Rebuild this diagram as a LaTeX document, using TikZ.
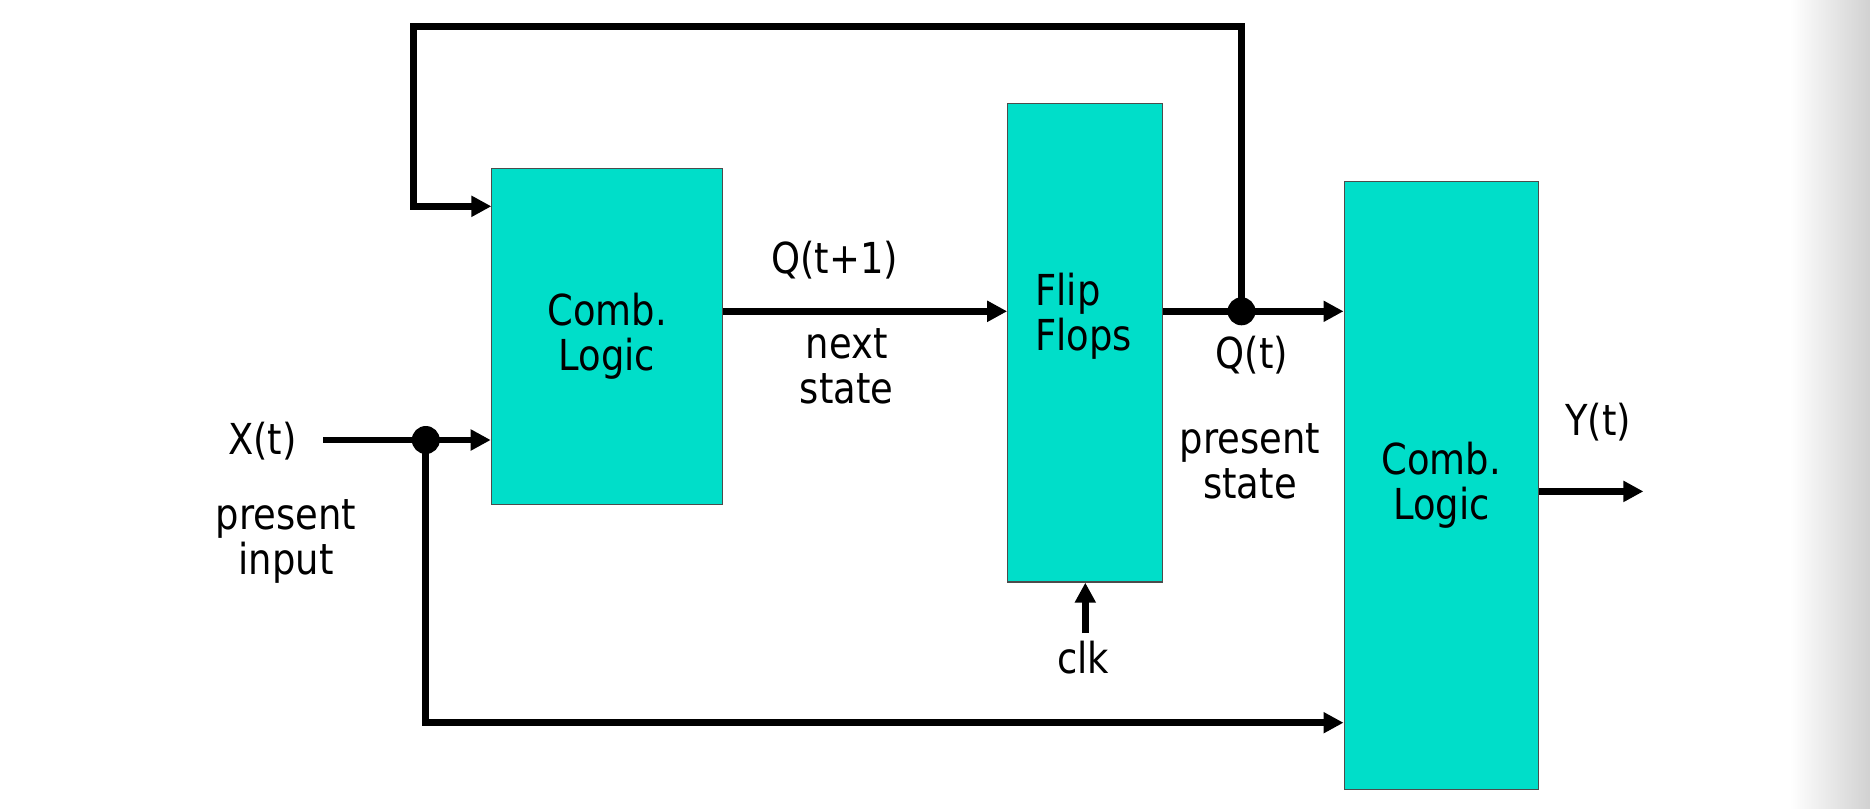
\documentclass[tikz,border=0pt]{standalone}
\usepackage{fontspec}
\setmainfont{DejaVu Sans}[FakeStretch=0.865]
\usepackage{xcolor}
\usetikzlibrary{arrows.meta}
\definecolor{boxfill}{RGB}{0,222,201}

\begin{document}
\begin{tikzpicture}[x=0.75pt,y=0.75pt,yscale=-1,xscale=1,
  wire/.style={line width=5pt},
  arr/.style={-{Triangle[length=15pt,width=15pt]}},
  logic/.style={draw=black!70,line width=0.9pt,fill=boxfill,inner sep=0pt,align=center,font=\fontsize{32}{34}\selectfont},
  lbl/.style={font=\fontsize{32}{34}\selectfont,align=center,inner sep=0pt},
  dot/.style={circle,fill=black,inner sep=0pt,minimum size=21pt}]
%uncomment if require: \path (0,808); %set diagram left start at 0, and has height of 808

%page edge
\shade [left color=white,right color=black!18] (1790,0) rectangle (1870,808);
\useasboundingbox (0,0) rectangle (1870,808);

% Blocks
\node [logic,minimum width=173.5pt,minimum height=252.2pt] (cl1) at (607,336.3) {Comb.\\Logic};
\node [logic,minimum width=116.3pt,minimum height=358.7pt] (ff) at (1085.3,342.9) {};
\node [logic,minimum width=145.8pt,minimum height=456.2pt] (cl2) at (1441.3,485.4) {Comb.\\Logic};
% Text Node
\node [lbl,anchor=west,align=left] (fftext) at (1035,316) {Flip\\Flops};

% Junctions
\node [dot] (qdot) at (1241.5,311.3) {};
\node [dot] (xdot) at (425.8,440) {};
\coordinate (fbtop) at (413.8,26.2);
\coordinate (fbin) at (491.4,206.3);
\coordinate (xstart) at (323.2,440);
\coordinate (bot) at (0,722.7);
\coordinate (yend) at (1643.4,491.4);

% Text Node
\node [lbl] (xlbl) at (262.4,441) {X(t)};
% Text Node
\node [lbl] (inlbl) at (286,541.4) {present\\input};
% Text Node
\node [lbl] (qnlbl) at (834.8,260) {Q(t+1)};
% Text Node
\node [lbl] (nslbl) at (846.7,366) {next\\state};
% Text Node
\node [lbl] (qlbl) at (1252,355.4) {Q(t)};
% Text Node
\node [lbl] (pslbl) at (1250,461.5) {present\\state};
% Text Node
\node [lbl] (ylbl) at (1598,422) {Y(t)};
% Text Node
\node [lbl,inner sep=6pt] (clk) at (1083,658) {clk};

%Feedback
\draw [wire,arr] (qdot.center) |- (fbtop) |- (fbin);
%Straight Lines
\draw [wire,arr] (cl1.east |- qdot) -- (ff.west |- qdot);
\draw [wire,arr] (ff.east |- qdot) -- (cl2.west |- qdot);
\draw [wire,arr] (xstart) -- (cl1.west |- xdot);
\draw [wire,arr] (xdot.center) |- (cl2.west |- bot);
\draw [wire,arr] (cl2.east |- yend) -- (yend);
\draw [wire,arr] (clk.north -| ff.south) -- (ff.south);
\end{tikzpicture}
\end{document}
